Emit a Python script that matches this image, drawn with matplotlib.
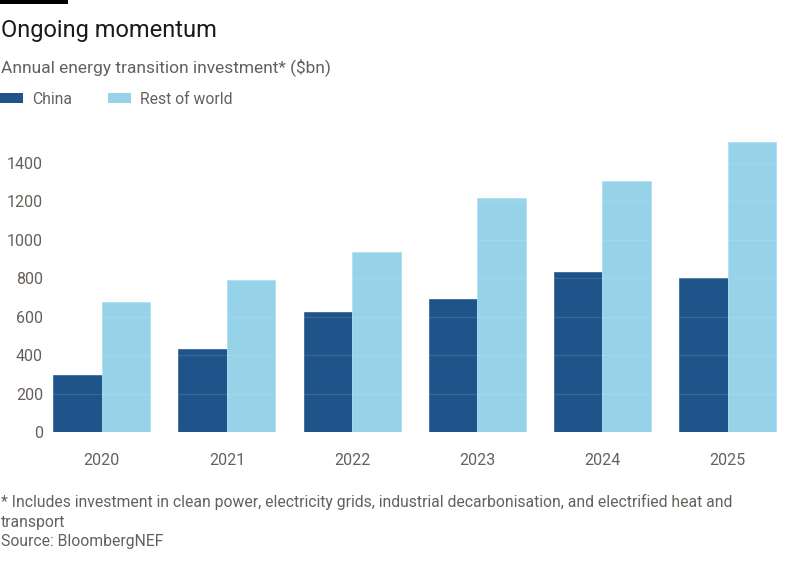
import numpy as np
import matplotlib.pyplot as plt
from matplotlib.patches import Patch, Rectangle

years = ['2020', '2021', '2022', '2023', '2024', '2025']
china = [297, 434, 623, 692, 833, 803]
rest_of_world = [678, 793, 937, 1216, 1307, 1511]

grey = '#66605c'
china_col = '#1f548a'
row_col = '#96d3e8'

fig = plt.figure(figsize=(8, 5.71), dpi=100)
ax = fig.add_axes([50 / 800, 139 / 571, 730 / 800, 302 / 571])

x = np.arange(len(years))
w = 0.387
ax.bar(x - w / 2, china, width=w, color=china_col, edgecolor='#3a6a9a', linewidth=0.6, zorder=2)
ax.bar(x + w / 2, rest_of_world, width=w, color=row_col, edgecolor='#aee2f2', linewidth=0.6, zorder=2)

ax.set_xlim(-0.413, 5.418)
ax.set_ylim(0, 1572)
ax.set_yticks(range(0, 1401, 200))
ax.set_xticks(x)
ax.set_xticklabels(years)
for s in ax.spines.values():
    s.set_visible(False)
ax.tick_params(axis='both', length=0, labelsize=11.5, labelcolor=grey)
ax.tick_params(axis='y', pad=5)
ax.tick_params(axis='x', pad=15)
for lab in ax.get_xticklabels() + ax.get_yticklabels():
    lab.set_fontfamily('Roboto')

# faint grid lines showing through the bars
ax.grid(axis='y', color='white', alpha=0.12, linewidth=0.8, zorder=3)
ax.set_axisbelow(False)

# top black tag
fig.add_artist(Rectangle((0, 1 - 4 / 571), 68 / 800, 4 / 571, transform=fig.transFigure,
                         color='black', linewidth=0))

fig.text(1 / 800, 1 - 37 / 571, 'Ongoing momentum', fontsize=17, family='Roboto',
         color='#1a1a1a', va='baseline')
fig.text(1 / 800, 1 - 72 / 571, 'Annual energy transition investment* ($bn)', fontsize=12.5,
         family='Roboto', color=grey, va='baseline')

handles = [Patch(facecolor=china_col, label='China'), Patch(facecolor=row_col, label='Rest of world')]
leg = fig.legend(handles=handles, loc='upper left', bbox_to_anchor=(0, 1 - 92 / 571), ncol=2,
                 frameon=False, borderpad=0, borderaxespad=0, handlelength=1.45, handleheight=0.6,
                 handletextpad=0.6, columnspacing=2.3,
                 prop={'family': 'Roboto', 'size': 11.3})
for t in leg.get_texts():
    t.set_color(grey)

foot = ('* Includes investment in clean power, electricity grids, industrial decarbonisation, and electrified heat and\n'
        'transport\n'
        'Source: BloombergNEF')
fig.text(1 / 800, 1 - 494 / 571, foot, fontsize=11.3, family='Roboto',
         color=grey, va='top', linespacing=1.38)

plt.savefig('out.png', dpi=100)
